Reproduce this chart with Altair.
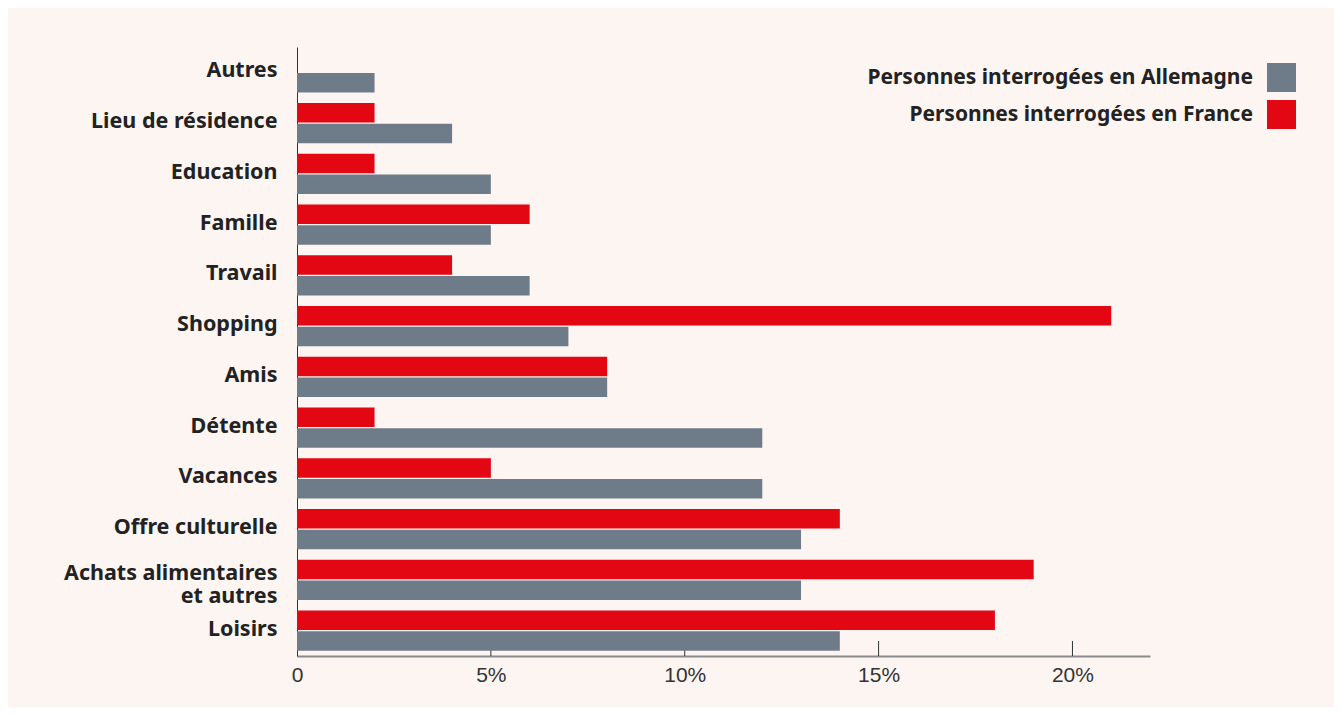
import altair as alt
import pandas as pd

categories = ["Autres", "Lieu de résidence", "Education", "Famille", "Travail",
              "Shopping", "Amis", "Détente", "Vacances", "Offre culturelle",
              "Achats alimentaires|et autres", "Loisirs"]
germany = [2, 4, 5, 5, 6, 7, 8, 12, 12, 13, 13, 14]
france = [None, 2, 2, 6, 4, 21, 8, 2, 5, 14, 19, 18]
series_names = ["Personnes interrogées en Allemagne", "Personnes interrogées en France"]
tick_values = [0, 5, 10, 15, 20]

GRAY = "#6e7c8a"
RED = "#e30613"
BG = "#fdf5f2"

rows = []
for c, g, f in zip(categories, germany, france):
    rows.append({"cat": c, "series": series_names[0], "value": g})
    if f is not None:
        rows.append({"cat": c, "series": series_names[1], "value": f})
df = pd.DataFrame(rows)
ticks_df = pd.DataFrame({"v": tick_values[1:]})

LABEL_FONT = "Noto Sans"
NUM_FONT = "Liberation Sans, Arial, sans-serif"

xscale = alt.Scale(domain=[0, 22], nice=False)

ticks = alt.Chart(ticks_df).mark_rule(color="#333333", strokeWidth=1).encode(
    x=alt.X("v:Q", scale=xscale),
    y=alt.value(594),
    y2=alt.value(609),
)

bars = alt.Chart(df).mark_bar().encode(
    y=alt.Y("cat:N", sort=categories,
            scale=alt.Scale(paddingInner=0.21, paddingOuter=0.105),
            axis=alt.Axis(title=None, ticks=False, domainColor="#333333", domainWidth=1,
                          labelFont=LABEL_FONT, labelFontWeight="bold", labelFontSize=21.5,
                          labelColor="#222222", labelPadding=20, labelLimit=500,
                          labelLineHeight=23,
                          labelOffset={"condition": {"test": "indexof(datum.value, '|') >= 0",
                                                     "value": -6}, "value": -1},
                          labelExpr="split(datum.label, '|')")),
    yOffset=alt.YOffset("series:N", sort=[series_names[1], series_names[0]],
                        scale=alt.Scale(paddingInner=0.05)),
    x=alt.X("value:Q", scale=xscale,
            axis=alt.Axis(title=None, ticks=False, grid=False, values=tick_values,
                          domainColor="#8a8a8a", domainWidth=2, labelFlush=False,
                          labelFont=NUM_FONT, labelFontSize=21, labelColor="#333333",
                          labelPadding=8,
                          labelExpr="datum.value == 0 ? '0' : datum.value + '%'")),
    color=alt.Color("series:N",
                    scale=alt.Scale(domain=series_names, range=[GRAY, RED]),
                    legend=alt.Legend(title=None, orient="none", legendX=970, legendY=16,
                                      symbolType="square", symbolSize=841,
                                      symbolStrokeWidth=0, symbolOpacity=1,
                                      labelAlign="right", labelOffset={"expr": "-43"},
                                      labelFont=LABEL_FONT, labelFontWeight="bold",
                                      labelFontSize=21, labelColor="#222222",
                                      labelLimit=600, rowPadding=8, padding=0)),
)

chart = alt.layer(ticks, bars).properties(
    width=853, height=609,
    autosize=alt.AutoSizeParams(type="none"),
    padding={"left": 289, "top": 39, "right": 184, "bottom": 51},
    background=BG,
).configure_view(stroke=None)

chart.save("out.html", embed_options={"renderer": "svg", "actions": False})
